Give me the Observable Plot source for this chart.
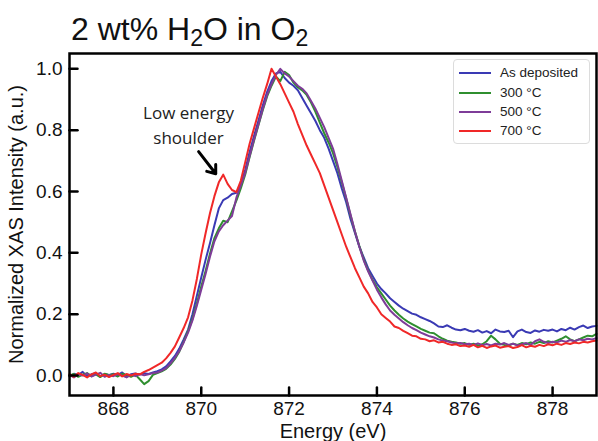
<!DOCTYPE html>
<html>
<head>
<meta charset="utf-8">
<script src="https://cdn.jsdelivr.net/npm/d3@7"></script>
<script src="https://cdn.jsdelivr.net/npm/@observablehq/plot@0.6"></script>
<style>
  html, body { margin: 0; padding: 0; background: #fff; }
  #wrap { position: relative; width: 598px; height: 441px; overflow: hidden; font-family: "Liberation Sans", Arial, sans-serif; }
  #title { position: absolute; left: 71px; top: 13px; font-size: 32px; line-height: 32px; color: #111; white-space: nowrap; }
  #title sub { font-size: 0.72em; vertical-align: -0.28em; line-height: 0; }
  #legend { position: absolute; left: 453px; top: 59px; width: 137px; height: 85px; box-sizing: border-box;
            border: 1px solid #dcdcdc; border-radius: 4px; background: rgba(255,255,255,0.85); }
  .item { position: absolute; left: 0; height: 18px; width: 100%; }
  .item .sw { position: absolute; left: 5px; top: 8px; width: 32px; height: 2px; }
  .item .lb { position: absolute; left: 46px; top: 0; font-size: 13.5px; line-height: 18px; color: #222; white-space: nowrap; }
</style>
</head>
<body>
<div id="wrap">
  <div id="chart"></div>
  <div id="title">2 wt% H<sub>2</sub>O in O<sub>2</sub></div>
  <div id="legend"></div>
</div>
<script>
// ---- data ----
const energy = [
  867.0, 867.1, 867.2, 867.3, 867.4, 867.5, 867.6, 867.7, 867.8, 867.9,
  868.0, 868.1, 868.2, 868.3, 868.4, 868.5, 868.6, 868.7, 868.8, 868.9,
  869.0, 869.1, 869.2, 869.3, 869.4, 869.5, 869.6, 869.7, 869.8, 869.9,
  870.0, 870.1, 870.2, 870.3, 870.4, 870.5, 870.6, 870.7, 870.8, 870.9,
  871.0, 871.1, 871.2, 871.3, 871.4, 871.5, 871.6, 871.7, 871.8, 871.9,
  872.0, 872.1, 872.2, 872.3, 872.4, 872.5, 872.6, 872.7, 872.8, 872.9,
  873.0, 873.1, 873.2, 873.3, 873.4, 873.5, 873.6, 873.7, 873.8, 873.9,
  874.0, 874.1, 874.2, 874.3, 874.4, 874.5, 874.6, 874.7, 874.8, 874.9,
  875.0, 875.1, 875.2, 875.3, 875.4, 875.5, 875.6, 875.7, 875.8, 875.9,
  876.0, 876.1, 876.2, 876.3, 876.4, 876.5, 876.6, 876.7, 876.8, 876.9,
  877.0, 877.1, 877.2, 877.3, 877.4, 877.5, 877.6, 877.7, 877.8, 877.9,
  878.0, 878.1, 878.2, 878.3, 878.4, 878.5, 878.6, 878.7, 878.8, 878.9,
  879.0
];

const asDeposited = [
  -0.004, 0.006, 0.002, 0.012, -0.002, 0.004, 0.008, -0.003, 0.005, 0.001,
  0.006, 0.002, 0.010, -0.002, 0.004, 0.007, 0.003, 0.008, 0.005, 0.010,
  0.014, 0.020, 0.030, 0.046, 0.064, 0.088, 0.118, 0.150, 0.200, 0.260,
  0.320, 0.378, 0.432, 0.490, 0.545, 0.572, 0.580, 0.592, 0.596, 0.622,
  0.670, 0.728, 0.780, 0.830, 0.880, 0.925, 0.960, 0.985, 0.990, 0.970,
  0.955, 0.945, 0.930, 0.905, 0.880, 0.855, 0.830, 0.800, 0.775, 0.740,
  0.700, 0.660, 0.610, 0.565, 0.510, 0.465, 0.420, 0.385, 0.350, 0.325,
  0.300, 0.282, 0.268, 0.252, 0.240, 0.228, 0.218, 0.210, 0.202, 0.198,
  0.190, 0.184, 0.178, 0.170, 0.160, 0.158, 0.164, 0.156, 0.150, 0.148,
  0.152, 0.146, 0.143, 0.148, 0.140, 0.145, 0.138, 0.150, 0.144, 0.142,
  0.146, 0.125, 0.144, 0.150, 0.142, 0.139, 0.147, 0.143, 0.149, 0.146,
  0.150, 0.144, 0.152, 0.148, 0.156, 0.150, 0.158, 0.163, 0.155, 0.160,
  0.162
];

const t300 = [
  0.000, 0.005, -0.004, 0.003, 0.008, -0.002, 0.004, -0.005, 0.006, 0.002,
  0.004, -0.003, 0.006, 0.002, -0.004, 0.003, -0.012, -0.028, -0.018, 0.002,
  0.008, 0.014, 0.022, 0.036, 0.054, 0.078, 0.110, 0.145, 0.185, 0.235,
  0.290, 0.342, 0.398, 0.448, 0.480, 0.505, 0.500, 0.535, 0.570, 0.610,
  0.655, 0.712, 0.765, 0.815, 0.865, 0.910, 0.945, 0.975, 0.960, 0.990,
  0.980, 0.955, 0.940, 0.930, 0.915, 0.890, 0.860, 0.825, 0.790, 0.760,
  0.725, 0.680, 0.630, 0.578, 0.522, 0.470, 0.422, 0.378, 0.342, 0.312,
  0.288, 0.268, 0.248, 0.228, 0.212, 0.198, 0.186, 0.176, 0.168, 0.160,
  0.152, 0.146, 0.140, 0.138, 0.128, 0.120, 0.114, 0.110, 0.108, 0.104,
  0.106, 0.100, 0.104, 0.098, 0.102, 0.112, 0.130, 0.118, 0.104, 0.100,
  0.098, 0.104, 0.100, 0.106, 0.102, 0.108, 0.104, 0.110, 0.106, 0.112,
  0.108, 0.114, 0.120, 0.128, 0.118, 0.112, 0.118, 0.124, 0.130, 0.128,
  0.136
];

const t500 = [
  0.002, -0.006, 0.004, 0.000, 0.007, -0.003, 0.003, 0.009, -0.004, 0.002,
  -0.002, 0.004, 0.000, -0.006, 0.003, -0.002, 0.005, 0.001, 0.004, 0.008,
  0.010, 0.016, 0.024, 0.040, 0.058, 0.080, 0.108, 0.140, 0.180, 0.228,
  0.280, 0.332, 0.388, 0.438, 0.470, 0.490, 0.505, 0.520, 0.580, 0.620,
  0.660, 0.715, 0.768, 0.818, 0.868, 0.915, 0.950, 0.980, 1.000, 0.985,
  0.975, 0.960, 0.945, 0.935, 0.920, 0.895, 0.870, 0.840, 0.810, 0.775,
  0.740, 0.690, 0.635, 0.580, 0.525, 0.470, 0.420, 0.375, 0.340, 0.310,
  0.280, 0.255, 0.232, 0.212, 0.198, 0.186, 0.174, 0.164, 0.155, 0.148,
  0.140, 0.134, 0.128, 0.124, 0.118, 0.114, 0.112, 0.108, 0.105, 0.106,
  0.102, 0.104, 0.100, 0.105, 0.099, 0.103, 0.098, 0.104, 0.101, 0.106,
  0.100, 0.104, 0.098, 0.102, 0.106, 0.100, 0.112, 0.118, 0.110, 0.106,
  0.110, 0.108, 0.114, 0.110, 0.116, 0.112, 0.118, 0.115, 0.120, 0.118,
  0.122
];

const t700 = [
  0.005, -0.004, 0.008, 0.002, -0.006, 0.004, 0.010, -0.002, 0.003, -0.005,
  0.002, 0.008, -0.003, 0.005, 0.000, 0.006, 0.004, 0.012, 0.018, 0.026,
  0.034, 0.042, 0.056, 0.074, 0.095, 0.125, 0.155, 0.190, 0.245, 0.315,
  0.395, 0.465, 0.530, 0.585, 0.630, 0.655, 0.625, 0.605, 0.598, 0.635,
  0.695, 0.755, 0.805, 0.855, 0.905, 0.950, 1.000, 0.975, 0.950, 0.920,
  0.890, 0.860, 0.820, 0.785, 0.750, 0.720, 0.690, 0.660, 0.620, 0.580,
  0.540, 0.500, 0.460, 0.420, 0.385, 0.350, 0.320, 0.290, 0.268, 0.240,
  0.222, 0.200, 0.188, 0.176, 0.160, 0.155, 0.146, 0.138, 0.130, 0.128,
  0.120, 0.118, 0.112, 0.115, 0.108, 0.110, 0.104, 0.100, 0.102, 0.096,
  0.098, 0.094, 0.100, 0.092, 0.097, 0.090, 0.095, 0.098, 0.091, 0.094,
  0.096, 0.090, 0.093, 0.099, 0.092, 0.097, 0.094, 0.100, 0.096, 0.102,
  0.099, 0.104, 0.100, 0.106, 0.103, 0.108, 0.105, 0.110, 0.108, 0.112,
  0.114
];

const seriesNames = ["As deposited", "300 °C", "500 °C", "700 °C"];
const seriesColors = ["#3a3ab4", "#2f8f2f", "#7e3c98", "#f02828"];
const seriesValues = [asDeposited, t300, t500, t700];

const xTicks = [868, 870, 872, 874, 876, 878];
const yTicks = [0.0, 0.2, 0.4, 0.6, 0.8, 1.0];

const annotText = "Low energy\nshoulder";
const annotPos = {E: 869.71, I: 0.822};
const arrowPos = {E1: 869.94, I1: 0.73, E2: 870.33, I2: 0.658};

// ---- build table ----
const rows = [];
seriesNames.forEach((name, s) => {
  energy.forEach((e, i) => rows.push({E: e, I: seriesValues[s][i], series: name}));
});

const tickShape = { draw(context, l) { context.moveTo(0, 0); context.lineTo(0, -l); } };

const chart = Plot.plot({
  width: 598,
  height: 441,
  marginTop: 53,
  marginRight: 2,
  marginBottom: 46,
  marginLeft: 69,
  style: { fontFamily: "'Liberation Sans', Arial, sans-serif", background: "white", overflow: "visible", color: "#111" },
  x: { domain: [867, 879] },
  y: { domain: [-0.065, 1.05] },
  color: { domain: seriesNames, range: seriesColors },
  marks: [
    Plot.line(rows, { x: "E", y: "I", z: "series", stroke: "series", strokeWidth: 2, strokeLinejoin: "round" }),
    Plot.text([annotText], { x: () => annotPos.E, y: () => annotPos.I, text: d => d, fontSize: 17, lineHeight: 1.45, fontFamily: "'Open Sans', sans-serif", fill: "#222" }),
    Plot.arrow([arrowPos], { x1: "E1", y1: "I1", x2: "E2", y2: "I2", stroke: "black", strokeWidth: 3, headLength: 11, headAngle: 75 }),
    Plot.frame({ stroke: "black", strokeWidth: 2.5 }),
    Plot.axisX(xTicks, { tickSize: 0, tickPadding: 6, fontSize: 19, label: null, tickFormat: d => String(d) }),
    Plot.axisY(yTicks, { tickSize: 0, tickPadding: 7, fontSize: 19, label: null, tickFormat: d3.format(".1f") }),
    Plot.vector(xTicks, { x: d => d, frameAnchor: "bottom", length: 8, rotate: 0, anchor: "start", shape: tickShape, stroke: "black", strokeWidth: 2.5 }),
    Plot.vector(yTicks, { y: d => d, frameAnchor: "left", length: 8, rotate: 90, anchor: "start", shape: tickShape, stroke: "black", strokeWidth: 2.5 }),
    Plot.text(["Energy (eV)"], { frameAnchor: "bottom", textAnchor: "middle", lineAnchor: "middle", dy: 36, fontSize: 20, fill: "#111" }),
    Plot.text(["Normalized XAS Intensity (a.u.)"], { frameAnchor: "left", textAnchor: "middle", lineAnchor: "middle", rotate: -90, dx: -53, fontSize: 20, fill: "#111" })
  ]
});
document.getElementById("chart").appendChild(chart);

// ---- legend ----
const legend = document.getElementById("legend");
const rowTops = [4, 24, 43, 62];
seriesNames.forEach((name, i) => {
  const it = document.createElement("div");
  it.className = "item";
  it.style.top = rowTops[i] + "px";
  const sw = document.createElement("div");
  sw.className = "sw";
  sw.style.background = seriesColors[i];
  const lb = document.createElement("div");
  lb.className = "lb";
  lb.textContent = name;
  it.appendChild(sw);
  it.appendChild(lb);
  legend.appendChild(it);
});
</script>
</body>
</html>
